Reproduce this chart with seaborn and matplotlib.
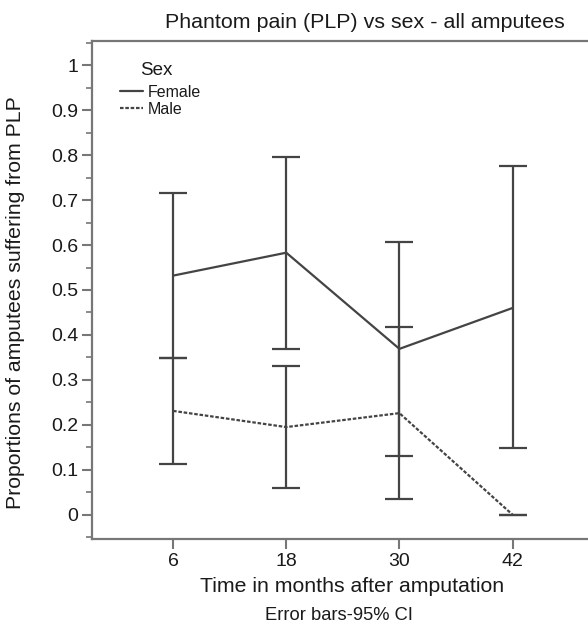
import matplotlib
matplotlib.use("Agg")
import matplotlib.pyplot as plt
import seaborn as sns
import pandas as pd
from matplotlib.ticker import MultipleLocator
from matplotlib.lines import Line2D

months = [6, 18, 30, 42]
female_mean = [0.532, 0.583, 0.369, 0.460]
female_lo = [0.348, 0.369, 0.130, 0.148]
female_hi = [0.715, 0.796, 0.607, 0.776]
male_mean = [0.231, 0.195, 0.226, 0.0]
male_lo = [0.112, 0.059, 0.036, 0.0]
male_hi = [0.348, 0.331, 0.418, 0.0]

sns.set_style("white")
plt.rcParams['font.family'] = ['Liberation Sans', 'DejaVu Sans']

ink = '#444444'
txt = '#1a1a1a'

df = pd.DataFrame({
    'month': months * 2,
    'prop': female_mean + male_mean,
    'Sex': ['Female'] * 4 + ['Male'] * 4,
})

fig = plt.figure(figsize=(5.88, 6.26), dpi=100)
ax = fig.add_axes([0.1565, 0.139, 0.8435, 0.7955])

sns.lineplot(data=df, x='month', y='prop', style='Sex',
             dashes={'Female': '', 'Male': (1.6, 0.8)},
             color=ink, linewidth=1.6, ax=ax, legend=False)

# 95% CI bars
for mean, lo, hi in [(female_mean, female_lo, female_hi), (male_mean, male_lo, male_hi)]:
    err = [[m - l for m, l in zip(mean, lo)], [h - m for m, h in zip(mean, hi)]]
    ax.errorbar(months, mean, yerr=err, fmt='none', ecolor=ink,
                elinewidth=1.6, capsize=10, capthick=1.6)

ax.set_xlim(-2.6, 50)
ax.set_ylim(-0.054, 1.054)
ax.set_xticks(months)
ax.yaxis.set_minor_locator(MultipleLocator(0.05))
ax.set_yticks([0, 0.1, 0.2, 0.3, 0.4, 0.5, 0.6, 0.7, 0.8, 0.9, 1.0])
ax.set_yticklabels(['0', '0.1', '0.2', '0.3', '0.4', '0.5', '0.6', '0.7', '0.8', '0.9', '1'])
ax.tick_params(axis='both', which='major', direction='out', length=7, width=1.5,
               color='#777777', labelsize=14, labelcolor=txt, left=True, bottom=True, pad=3)
ax.tick_params(axis='y', which='minor', direction='out', length=4, width=1.2,
               color='#777777', left=True)

for s in ['top', 'left', 'bottom']:
    ax.spines[s].set_color('#777777')
    ax.spines[s].set_linewidth(1.6)
ax.spines['right'].set_visible(False)

ax.set_xlabel('Time in months after amputation', fontsize=15.3, color=txt)
ax.xaxis.set_label_coords((352 - 92) / 496, -38 / 498)
ax.set_ylabel('Proportions of amputees suffering from PLP', fontsize=15.3, color=txt)
ax.yaxis.set_label_coords(-67 / 496, (626 - 303 - 87) / 498)
fig.text(365 / 588, 1 - 22 / 626, 'Phantom pain (PLP) vs sex - all amputees', ha='center', va='center',
         fontsize=15.4, color=txt)
fig.text(339 / 588, 1 - 616 / 626, 'Error bars-95% CI', ha='center', va='center',
         fontsize=13.2, color=txt)

# legend: title as separate text so it can sit where the original has it
ax.text((140 - 92) / 496, 1 - (69 - 40) / 498, 'Sex', transform=ax.transAxes,
        ha='left', va='center', fontsize=13.5, color=txt)
handles = [Line2D([], [], color=ink, lw=1.6),
           Line2D([], [], color=ink, lw=1.6, dashes=(1.6, 0.8))]
leg = ax.legend(handles, ['Female', 'Male'], loc='upper left',
                bbox_to_anchor=(28 / 496, 1 - 44 / 498), frameon=False, fontsize=11.5,
                handlelength=1.45, handletextpad=0.3,
                labelspacing=0.1, borderaxespad=0, borderpad=0)
for t in leg.get_texts():
    t.set_color(txt)

fig.savefig('out.png', dpi=100)
